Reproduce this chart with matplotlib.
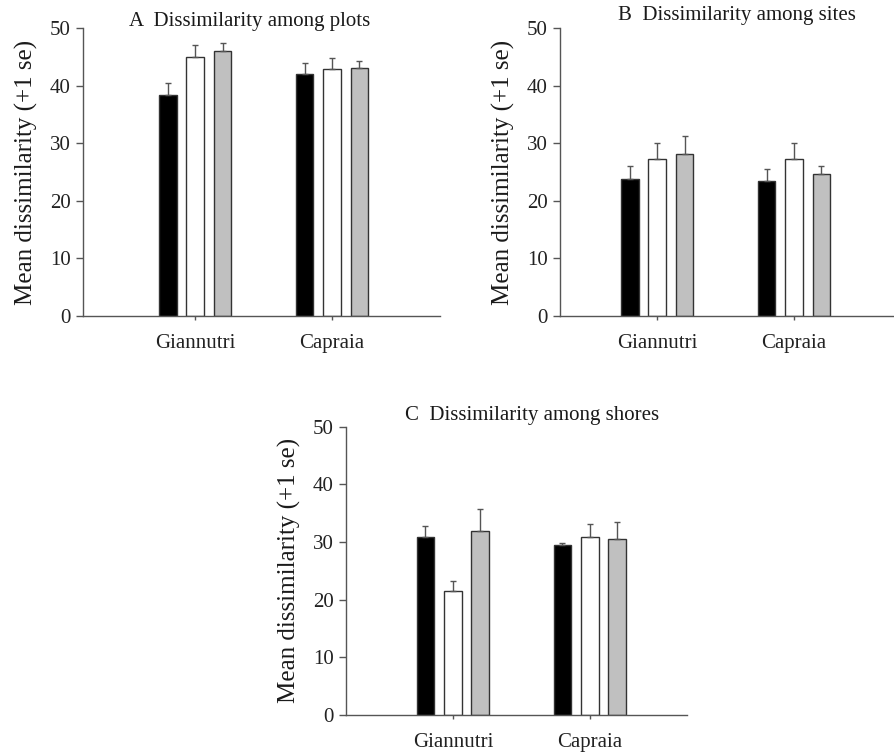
import numpy as np
from matplotlib import pyplot as plt

plt.rcParams['font.family'] = ['Liberation Serif', 'DejaVu Serif']

islands = ['Giannutri', 'Capraia']

# panel A - among plots
plots_black = [38.4, 42.1]
plots_white = [44.9, 42.9]
plots_gray = [46.0, 43.0]
plots_black_se = [2.1, 1.9]
plots_white_se = [2.1, 1.9]
plots_gray_se = [1.4, 1.2]

# panel B - among sites
sites_black = [23.7, 23.5]
sites_white = [27.2, 27.2]
sites_gray = [28.1, 24.7]
sites_black_se = [2.3, 2.1]
sites_white_se = [2.9, 2.9]
sites_gray_se = [3.1, 1.4]

# panel C - among shores
shores_black = [30.8, 29.5]
shores_white = [21.5, 30.9]
shores_gray = [31.9, 30.6]
shores_black_se = [2.0, 0.4]
shores_white_se = [1.7, 2.3]
shores_gray_se = [3.8, 2.8]

fig = plt.figure(figsize=(8.94, 7.55), dpi=100)

axA = fig.add_axes([83/894, 1-316/755, 357/894, 288/755])
axB = fig.add_axes([560/894, 1-316/755, 334/894, 288/755])
axC = fig.add_axes([346/894, 1-715/755, 341/894, 288.3/755])

def draw_panel(ax, black, white, gray, black_se, white_se, gray_se, title, title_x, title_y, xlim):
    x = np.arange(len(islands))
    w = 0.128
    off = 0.2
    ekw = dict(ecolor='#555555', elinewidth=1.0, capsize=2, capthick=1.0)
    ax.bar(x - off, black, w, color='black', edgecolor='#333333', linewidth=1.0,
           yerr=[np.zeros(2), black_se], error_kw=ekw, zorder=2)
    ax.bar(x, white, w, color='white', edgecolor='#333333', linewidth=1.0,
           yerr=[np.zeros(2), white_se], error_kw=ekw, zorder=2)
    ax.bar(x + off, gray, w, color='#c0c0c0', edgecolor='#333333', linewidth=1.0,
           yerr=[np.zeros(2), gray_se], error_kw=ekw, zorder=2)
    ax.set_xlim(xlim)
    ax.set_ylim(0, 50)
    ax.set_yticks([0, 10, 20, 30, 40, 50])
    ax.set_xticks(x)
    ax.set_xticklabels(islands, fontsize=15, color='#222222')
    ax.tick_params(axis='y', labelsize=15, labelcolor='#222222', length=5, width=1, color='#555555', pad=4)
    ax.tick_params(axis='x', length=3, width=1, color='#555555', pad=10)
    for s in ['top', 'right']:
        ax.spines[s].set_visible(False)
    for s in ['left', 'bottom']:
        ax.spines[s].set_color('#555555')
        ax.spines[s].set_linewidth(1.0)
    ax.set_ylabel('Mean dissimilarity (+1 se)', fontsize=18, color='#1a1a1a')
    # keep label ~45 px left of the axis line
    ax.yaxis.set_label_coords(-45 / (ax.get_position().width * 894), 0.5)
    ax.text(title_x, title_y, title, fontsize=15, color='#1a1a1a', ha='center', va='baseline',
            transform=ax.get_xaxis_transform())

draw_panel(axA, plots_black, plots_white, plots_gray, plots_black_se, plots_white_se, plots_gray_se,
           'A  Dissimilarity among plots', 0.40, 1.007, (-0.82, 1.79))
draw_panel(axB, sites_black, sites_white, sites_gray, sites_black_se, sites_white_se, sites_gray_se,
           'B  Dissimilarity among sites', 0.58, 1.028, (-0.71, 1.73))
draw_panel(axC, shores_black, shores_white, shores_gray, shores_black_se, shores_white_se, shores_gray_se,
           'C  Dissimilarity among shores', 0.58, 1.023, (-0.78, 1.71))

plt.savefig('out.png', dpi=100)
plt.close()
